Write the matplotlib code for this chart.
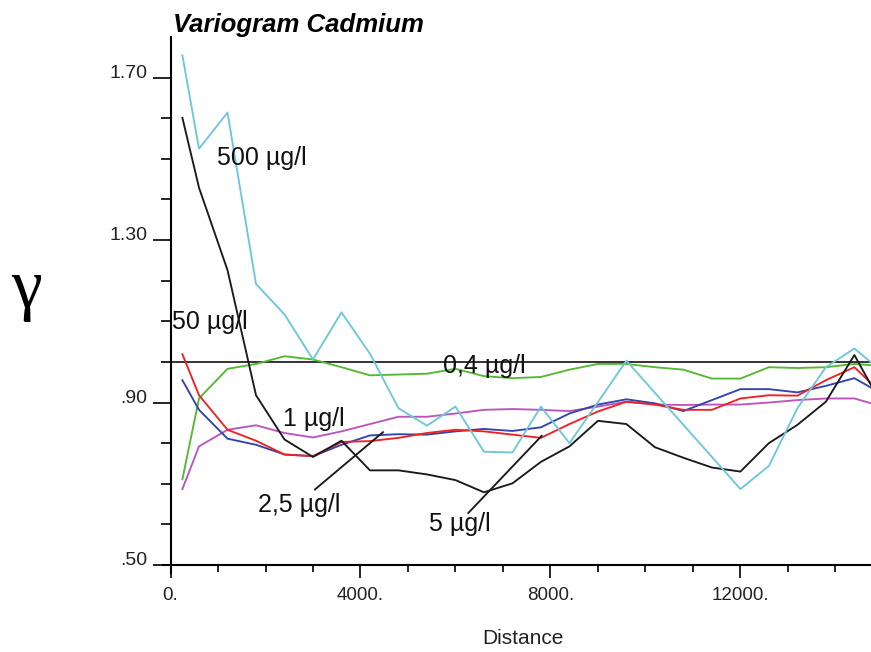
import numpy as np
import matplotlib
matplotlib.use("Agg")
import matplotlib.pyplot as plt

###########################################################################
# Variogram data, Cadmium (lag distance vs semivariance)
###########################################################################
lag = [250, 600, 1200, 1800, 2400, 3000, 3600, 4200, 4800, 5400, 6000, 6600, 7200,
       7800, 8400, 9000, 9600, 10200, 10800, 11400, 12000, 12600, 13200, 13800,
       14400, 15000]

g_500 = [1.755, 1.525, 1.614, 1.192, 1.117, 1.006, 1.122, 1.020, 0.886, 0.843, 0.890,
         0.779, 0.777, 0.890, 0.800, 0.901, 1.003, 0.924, 0.845, 0.766, 0.687, 0.744,
         0.886, 0.987, 1.033, 0.975]
g_50 = [1.601, 1.429, 1.226, 0.918, 0.809, 0.766, 0.806, 0.733, 0.733, 0.723, 0.709,
        0.679, 0.701, 0.754, 0.792, 0.855, 0.847, 0.790, 0.764, 0.740, 0.730, 0.800,
        0.845, 0.902, 1.017, 0.890]
g_04 = [0.711, 0.910, 0.983, 0.995, 1.014, 1.006, 0.987, 0.967, 0.969, 0.971, 0.983,
        0.965, 0.960, 0.963, 0.981, 0.995, 0.995, 0.987, 0.981, 0.959, 0.959, 0.987,
        0.985, 0.987, 0.995, 0.990]
g_1 = [0.687, 0.792, 0.833, 0.844, 0.825, 0.814, 0.829, 0.847, 0.865, 0.865, 0.873,
       0.882, 0.884, 0.882, 0.879, 0.890, 0.902, 0.895, 0.894, 0.895, 0.895, 0.900,
       0.906, 0.910, 0.910, 0.890]
g_25 = [0.955, 0.882, 0.811, 0.796, 0.772, 0.768, 0.796, 0.819, 0.822, 0.821, 0.829,
        0.835, 0.830, 0.839, 0.873, 0.895, 0.908, 0.898, 0.879, 0.906, 0.933, 0.933,
        0.925, 0.941, 0.960, 0.920]
g_5 = [1.019, 0.918, 0.833, 0.806, 0.772, 0.768, 0.803, 0.805, 0.813, 0.825, 0.833,
       0.829, 0.821, 0.813, 0.847, 0.878, 0.902, 0.895, 0.882, 0.882, 0.910, 0.918,
       0.917, 0.955, 0.987, 0.920]

sill = 1.0

yticks = [0.5, 0.9, 1.3, 1.7]
ylabels = ['.50', '.90', '1.30', '1.70']
xticks = [0, 4000, 8000, 12000]
xlabels = ['0.', '4000.', '8000.', '12000.']

#########################################################################
# Plot
#########################################################################
lab_font = ['Liberation Sans', 'DejaVu Sans']

fig = plt.figure(figsize=(8.71, 6.52), dpi=100)
ax = fig.add_axes([0.1876, 0.1210, 0.8124, 0.8222])

lw = 1.35
ax.plot([0, 15000], [sill, sill], color='#333333', lw=1.4)
ax.plot(lag, g_04, color='#55b833', lw=lw)
ax.plot(lag, g_1, color='#bb55bb', lw=lw)
ax.plot(lag, g_25, color='#3344aa', lw=lw)
ax.plot(lag, g_5, color='#ee2222', lw=lw)
ax.plot(lag, g_50, color='#1a1a1a', lw=lw)
ax.plot(lag, g_500, color='#6cc8da', lw=lw)

# leader lines for labels
ax.plot([3042, 4474], [0.686, 0.827], color='#1a1a1a', lw=lw)
ax.plot([6270, 7815], [0.628, 0.818], color='#1a1a1a', lw=lw)

tk = dict(fontsize=18, family=lab_font, color='#111111')
ax.text(973, 1.486, '500 µg/l', **tk)
ax.text(30, 1.080, '50 µg/l', **tk)
ax.text(2375, 0.841, '1 µg/l', **tk)
ax.text(5743, 0.973, '0,4 µg/l', **tk)
ax.text(1836, 0.630, '2,5 µg/l', **tk)
ax.text(5450, 0.584, '5 µg/l', **tk)

ax.set_xlim(-150, 14750)
ax.set_ylim(0.48, 1.80)

for s in ['top', 'right']:
    ax.spines[s].set_visible(False)
ax.spines['left'].set_position(('data', 0))
ax.spines['bottom'].set_position(('data', 0.5))
ax.spines['left'].set_linewidth(1.5)
ax.spines['bottom'].set_linewidth(1.5)

ax.set_yticks(yticks)
ax.set_yticklabels(ylabels, family=lab_font, fontsize=14, color='#222222')
for t in ax.get_yticklabels():
    t.set_verticalalignment('baseline')
ax.set_yticks(np.arange(0.5, 1.75, 0.1), minor=True)
ax.set_xticks(xticks)
ax.set_xticklabels(xlabels, family=lab_font, fontsize=13.5, color='#222222')
ax.set_xticks(np.arange(0, 15000, 1000), minor=True)
ax.tick_params(axis='y', which='major', direction='out', length=13, width=1.2, pad=3.5)
ax.tick_params(axis='y', which='minor', direction='out', length=7.5, width=1.2)
ax.tick_params(axis='x', which='major', direction='out', length=9, width=1.2, pad=7)
ax.tick_params(axis='x', which='minor', direction='out', length=5, width=1.2)

fig.text(173 / 871, 1 - 32 / 652, 'Variogram Cadmium', fontsize=18.5, fontweight='bold',
         fontstyle='italic', family=['Liberation Sans', 'DejaVu Sans'], va='baseline')
fig.text(26 / 871, 1 - 290 / 652, 'γ', fontsize=50, family=['Liberation Serif', 'DejaVu Serif'],
         ha='center', va='center')
fig.text(523 / 871, 1 - 639 / 652, 'Distance', fontsize=15, family=lab_font,
         ha='center', va='center', color='#222222')

fig.savefig('out.png', dpi=100)
